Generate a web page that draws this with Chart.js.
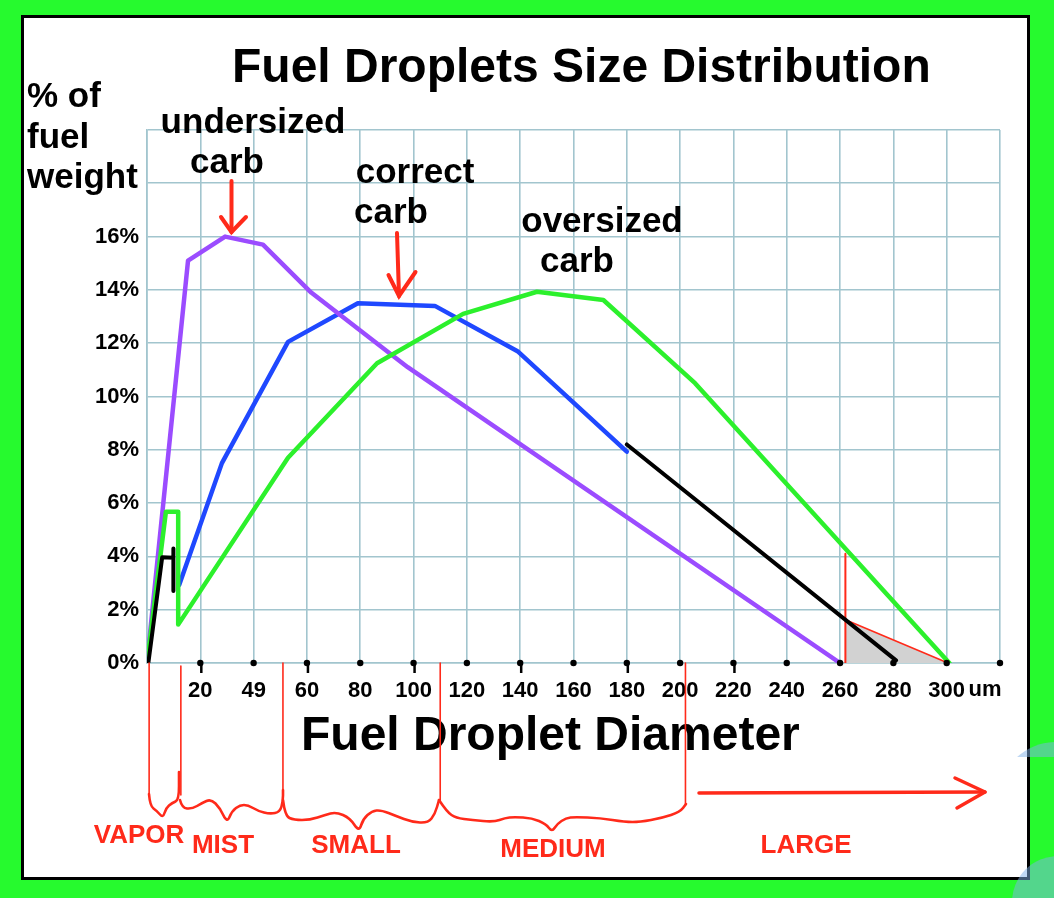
<!DOCTYPE html>
<html>
<head>
<meta charset="utf-8">
<style>
  html, body { margin: 0; padding: 0; background: #26fa2e; }
  #wrap { width: 1054px; height: 898px; position: relative; }
  canvas { display: block; }
</style>
<script src="https://cdn.jsdelivr.net/npm/chart.js@4/dist/chart.umd.min.js"></script>
</head>
<body>
<div id="wrap"><canvas id="c" width="1054" height="898"></canvas></div>
<script>
// ---------- DATA ----------
const xTickValues = [20, 40, 60, 80, 100, 120, 140, 160, 180, 200, 220, 240, 260, 280, 300];
const xTickLabels = ['20', '49', '60', '80', '100', '120', '140', '160', '180', '200', '220', '240', '260', '280', '300'];
const yTickMaxLabelled = 16;

const undersizedX = [0, 15.4, 29.3, 43.5, 61.6, 97.8, 260];
const undersizedY = [0, 15.1, 16.0, 15.7, 13.9, 11.1, 0];

const correctX = [12.1, 28.1, 52.9, 79.1, 108, 139, 180];
const correctY = [2.94, 7.5, 12.05, 13.5, 13.4, 11.7, 7.93];

const correctVaporX = [0.5, 5.7, 9.9, 9.9, 9.9];
const correctVaporY = [0, 3.97, 3.95, 4.3, 2.7];
const correctTailX = [180, 281];
const correctTailY = [8.2, 0.1];

const oversizedX = [0, 7.1, 11.7, 11.7, 52.9, 86.3, 118.6, 146.3, 171.2, 205.6, 301];
const oversizedY = [0, 5.68, 5.68, 1.44, 7.7, 11.25, 13.1, 13.93, 13.62, 10.5, 0];

const largeCutX = [262, 300.5];
const largeCutY = [1.62, 0];
const cutLineX = [262, 262];
const cutLineY = [4.1, -0.2];

const classBounds = [0.8, 12.7, 51, 110, 202];
const classLabels = ['VAPOR', 'MIST', 'SMALL', 'MEDIUM', 'LARGE'];

// ---------- HELPERS ----------
const pts = (xs, ys) => xs.map((x, i) => ({ x: x, y: ys[i] }));
const FONT = "'Liberation Sans', Arial, Helvetica, sans-serif";
const RED = '#ff2a1a';
const GRID = '#a2c5ce';

const framePlugin = {
  id: 'frame',
  beforeDraw(chart) {
    const ctx = chart.ctx;
    ctx.save();
    ctx.fillStyle = '#26fa2e';
    ctx.fillRect(0, 0, 1054, 898);
    ctx.fillStyle = '#ffffff';
    ctx.fillRect(22, 16, 1007, 863);
    ctx.strokeStyle = '#000000';
    ctx.lineWidth = 3;
    ctx.strokeRect(22.5, 16.5, 1006, 862);
    // decorative corner circles
    ctx.globalAlpha = 0.5;
    ctx.fillStyle = '#7fb2ea';
    ctx.save();
    ctx.beginPath(); ctx.rect(1000, 730, 54, 27); ctx.clip();
    ctx.beginPath(); ctx.arc(1056, 800, 58, 0, Math.PI * 2); ctx.fill();
    ctx.restore();
    ctx.beginPath(); ctx.arc(1058, 902, 46, Math.PI, 1.5 * Math.PI); ctx.lineTo(1058, 902); ctx.fill();
    ctx.restore();
  },
  afterDraw(chart) {
    const ctx = chart.ctx;
    const xs = chart.scales.x, ys = chart.scales.y;
    const y0 = ys.getPixelForValue(0);
    ctx.save();

    // axis dots
    ctx.fillStyle = '#000';
    ctx.strokeStyle = '#000';
    ctx.lineWidth = 2.5;
    for (let v = 20; v <= 320; v += 20) {
      const px = xs.getPixelForValue(v);
      ctx.beginPath(); ctx.arc(px, y0, 3.2, 0, Math.PI * 2); ctx.fill();
      if (v <= 220 && v % 40 !== 0) {
        ctx.beginPath(); ctx.moveTo(px + 1, y0); ctx.lineTo(px + 1, y0 + 10); ctx.stroke();
      }
    }

    // texts
    ctx.fillStyle = '#000';
    ctx.textBaseline = 'alphabetic';
    ctx.textAlign = 'left';
    ctx.font = 'bold 48px ' + FONT;
    ctx.fillText('Fuel Droplets Size Distribution', 232, 82);
    ctx.fillText('Fuel Droplet Diameter', 301, 750);

    ctx.font = 'bold 35px ' + FONT;
    ctx.fillText('% of', 27, 107);
    ctx.fillText('fuel', 27, 148);
    ctx.fillText('weight', 27, 188);

    ctx.textAlign = 'center';
    ctx.font = 'bold 35px ' + FONT;
    ctx.fillText('undersized', 253, 133);
    ctx.fillText('carb', 227, 173);
    ctx.fillText('correct', 415, 183);
    ctx.fillText('carb', 391, 223);
    ctx.fillText('oversized', 602, 232);
    ctx.fillText('carb', 577, 272);

    ctx.font = 'bold 22px ' + FONT;
    ctx.fillText('um', 985, 696);

    // red arrows
    ctx.strokeStyle = RED;
    ctx.lineWidth = 4;
    ctx.lineCap = 'round';
    const arrow = (x1, y1, x2, y2, hl, hr) => {
      ctx.beginPath(); ctx.moveTo(x1, y1); ctx.lineTo(x2, y2); ctx.stroke();
      ctx.beginPath(); ctx.moveTo(hl[0], hl[1]); ctx.lineTo(x2, y2); ctx.lineTo(hr[0], hr[1]); ctx.stroke();
    };
    arrow(231.5, 181, 231.5, 232, [221, 217], [246, 217]);
    arrow(397, 233, 399, 296, [388.5, 275], [415.5, 272]);

    // class boundary lines below axis
    ctx.lineWidth = 1.6;
    const bEnds = [795, 795, 792, 802, 805];
    classBounds.forEach((b, i) => {
      const px = xs.getPixelForValue(b);
      ctx.beginPath(); ctx.moveTo(px, y0 + (i === 1 ? 3 : 0)); ctx.lineTo(px, bEnds[i]); ctx.stroke();
    });

    // braces (hand drawn)
    ctx.lineWidth = 2.6;
    ctx.lineJoin = 'round';
    const smooth = (p) => {
      ctx.beginPath(); ctx.moveTo(p[0][0], p[0][1]);
      for (let i = 1; i < p.length - 1; i++) {
        const mx = (p[i][0] + p[i + 1][0]) / 2, my = (p[i][1] + p[i + 1][1]) / 2;
        ctx.quadraticCurveTo(p[i][0], p[i][1], mx, my);
      }
      const l = p[p.length - 1]; ctx.lineTo(l[0], l[1]); ctx.stroke();
    };
    smooth([[149, 794], [150, 806], [157, 811], [163, 818], [166, 808], [172, 803], [179, 800], [179, 772]]);
    smooth([[180, 800], [182, 808], [192, 809], [202, 803], [211, 799], [220, 808], [227, 823], [232, 811], [240, 805], [248, 805], [258, 811], [270, 814], [280, 812], [283, 801], [283, 790]]);
    smooth([[283, 800], [285, 816], [294, 820], [310, 820], [325, 815], [336, 812], [350, 818], [359, 832], [363, 819], [372, 811], [381, 810], [396, 816], [412, 822], [428, 823], [435, 814], [439, 800]]);
    smooth([[439, 800], [447, 812], [456, 818], [472, 820], [494, 822], [505, 818], [514, 817], [532, 818], [546, 824], [552, 832], [557, 824], [566, 818], [575, 817], [600, 818], [625, 822], [640, 822], [662, 818], [680, 812], [686, 804]]);

    // LARGE arrow
    ctx.lineWidth = 3.5;
    arrow(699, 793, 985, 792, [955, 778], [957, 808]);

    // class labels
    ctx.fillStyle = RED;
    ctx.font = 'bold 26px ' + FONT;
    ctx.textAlign = 'center';
    const lx = [139, 223, 356, 553, 806];
    const ly = [843, 853, 853, 857, 853];
    classLabels.forEach((t, i) => ctx.fillText(t, lx[i], ly[i]));
    ctx.restore();
  }
};

const ctx = document.getElementById('c').getContext('2d');
new Chart(ctx, {
  type: 'line',
  data: {
    datasets: [
      { label: 'correct carb vapor', data: pts(correctVaporX, correctVaporY), borderColor: '#000', borderWidth: 4, order: 0 },
      { label: 'correct carb tail', data: pts(correctTailX, correctTailY), borderColor: '#000', borderWidth: 4, order: 0 },
      { label: 'oversized carb', data: pts(oversizedX, oversizedY), borderColor: '#2cf02c', borderWidth: 4.5, order: 1 },
      { label: 'undersized carb', data: pts(undersizedX, undersizedY), borderColor: '#9b4cff', borderWidth: 4.5, order: 2 },
      { label: 'correct carb', data: pts(correctX, correctY), borderColor: '#1f48ff', borderWidth: 4.5, order: 3 },
      { label: 'large cut', data: pts(largeCutX, largeCutY), borderColor: RED, borderWidth: 1.6, fill: 'origin', backgroundColor: '#d2d2d2', order: 5 },
      { label: 'cut line', data: pts(cutLineX, cutLineY), borderColor: RED, borderWidth: 2, order: 4 }
    ]
  },
  options: {
    responsive: false,
    animation: false,
    devicePixelRatio: 1,
    layout: { padding: { left: 0, right: 54, top: 130, bottom: 0 } },
    elements: { point: { radius: 0, hoverRadius: 0 }, line: { tension: 0, borderCapStyle: 'round', borderJoinStyle: 'round', fill: false } },
    plugins: { legend: { display: false }, tooltip: { enabled: false }, title: { display: false } },
    scales: {
      x: {
        type: 'linear', min: 0, max: 320,
        afterFit: (s) => { s.height = 235; },
        afterBuildTicks: (s) => { s.ticks = [0].concat(xTickValues, [320]).map(v => ({ value: v })); },
        grid: { color: GRID, lineWidth: 1.6, drawTicks: false },
        border: { color: GRID, width: 1.6 },
        ticks: {
          autoSkip: false, maxRotation: 0, padding: 15, color: '#000',
          font: { family: FONT, size: 22, weight: 'bold' },
          callback: (v) => { const i = xTickValues.indexOf(v); return i >= 0 ? xTickLabels[i] : ''; }
        }
      },
      y: {
        type: 'linear', min: 0, max: 20,
        afterFit: (s) => { s.width = 147; },
        grid: { color: GRID, lineWidth: 1.6, drawTicks: false },
        border: { color: GRID, width: 1.6 },
        ticks: {
          stepSize: 2, padding: 8, color: '#000',
          font: { family: FONT, size: 22, weight: 'bold' },
          callback: (v) => (v <= yTickMaxLabelled ? v + '%' : '')
        }
      }
    }
  },
  plugins: [framePlugin]
});
</script>
</body>
</html>
